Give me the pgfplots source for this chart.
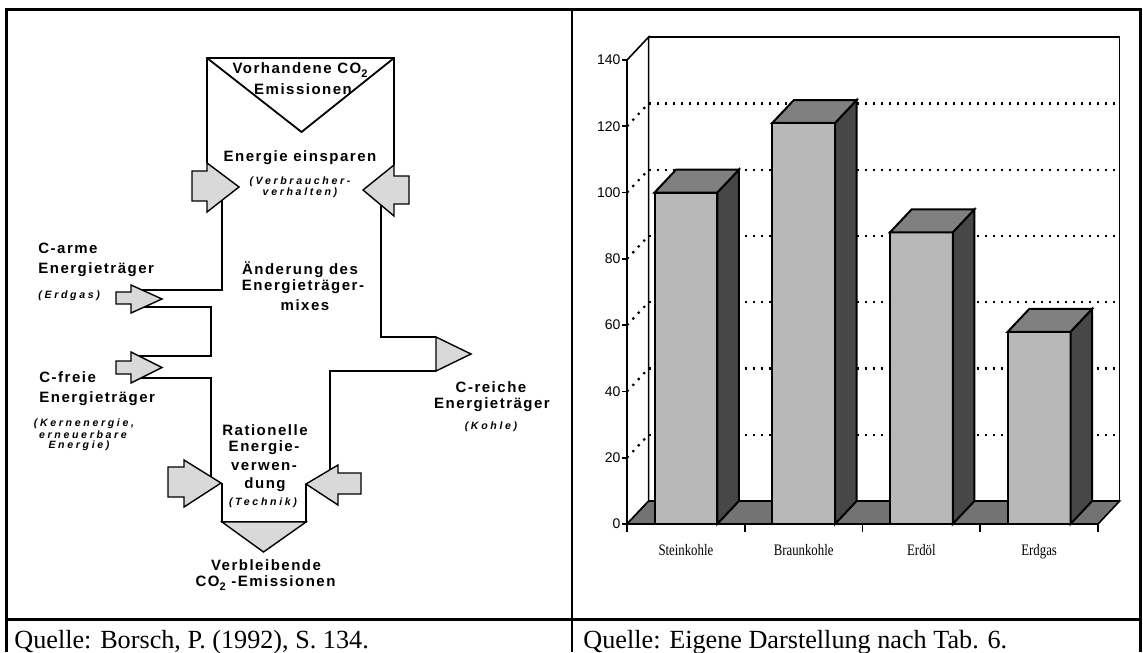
\documentclass[border=0pt]{standalone}
\usepackage{fontspec}
\setmainfont{Liberation Serif}
\usepackage{graphicx}
\usepackage{pgfplots}
\pgfplotsset{compat=1.18}
\newfontfamily\dg[LetterSpace=10]{Liberation Sans}
\newfontfamily\dgi[LetterSpace=25]{Liberation Sans}
\newfontfamily\tkf{Liberation Sans}
\newcommand\dgb{\dg\bfseries\fontsize{7.5}{9}\selectfont}
\newcommand\dgs{\dgi\bfseries\itshape\fontsize{5.3}{6}\selectfont}
\newcommand\sub[1]{\raisebox{-0.45ex}{\fontsize{5.5}{5.5}\selectfont #1}}
\begin{document}
\begin{tikzpicture}
\begin{scope}[x=0.5pt,y=-0.5pt]
\useasboundingbox (0,0) rectangle (1143,652);
% frame
\draw[line width=1.5pt] (6,652) -- (6,10) -- (1140,10) -- (1140,652);
\draw[line width=1.2pt] (572,10) -- (572,652);
\draw[line width=1.5pt] (6,619) -- (1140,619);
% diagram walls
\begin{scope}[line width=0.9pt]
\draw (207,163) -- (207,58) -- (394,58) -- (394,165);
\draw (207,58) -- (301.5,132) -- (394,58);
\draw (222,200) -- (222,290) -- (142,290);
\draw (144,307) -- (211,307) -- (211,356) -- (139,356);
\draw (141,378) -- (211,378) -- (211,477);
\draw (381,205) -- (381,337) -- (436,337);
\draw (436,371) -- (330,371) -- (330,469.5);
\draw (222,483) -- (222,522) -- (306,522) -- (306,484);
\end{scope}
\begin{scope}[fill=black!15, line width=0.7pt]
\filldraw (192,171) -- (207,171) -- (207,163) -- (239,187) -- (207,212) -- (207,201) -- (192,201) -- cycle;
\filldraw (409,176) -- (394,176) -- (394,165) -- (363,190) -- (394,216) -- (394,204) -- (409,204) -- cycle;
\filldraw (116,292) -- (131,292) -- (131,285) -- (162,299) -- (131,313) -- (131,304) -- (116,304) -- cycle;
\filldraw (116,361) -- (131,361) -- (131,352) -- (162,367.5) -- (131,383) -- (131,374) -- (116,374) -- cycle;
\filldraw (168,467) -- (184,467) -- (184,460) -- (221,483) -- (184,507) -- (184,497) -- (168,497) -- cycle;
\filldraw (361,473) -- (338,473) -- (338,465) -- (306,484) -- (338,505) -- (338,494) -- (361,494) -- cycle;
\filldraw (436,337) -- (471,354) -- (436,371) -- cycle;
\filldraw (222,522) -- (306,522) -- (263.5,552) -- cycle;
\end{scope}
% diagram texts
\node[font=\dgb] at (300,70) {Vorhandene CO\sub{2}};
\node[font=\dgb] at (303,89) {Emissionen};
\node[font=\dgb] at (300,158) {Energie einsparen};
\node[font=\dgs] at (300,182) {(Verbraucher-};
\node[font=\dgs] at (300,193) {verhalten)};
\node[font=\dgb,anchor=west,inner sep=0pt] at (38,248) {C-arme};
\node[font=\dgb,anchor=west,inner sep=0pt] at (38,270) {Energieträger};
\node[font=\dgs,anchor=west,inner sep=0pt] at (38,296) {(Erdgas)};
\node[font=\dgb] at (300,270) {Änderung des};
\node[font=\dgb] at (303,287) {Energieträger-};
\node[font=\dgb] at (305,305) {mixes};
\node[font=\dgb,anchor=west,inner sep=0pt] at (39,377) {C-freie};
\node[font=\dgb,anchor=west,inner sep=0pt] at (39,399) {Energieträger};
\node[font=\dgs] at (84,424) {(Kernenergie,};
\node[font=\dgs] at (83,435) {erneuerbare};
\node[font=\dgs] at (79,446) {Energie)};
\node[font=\dgb] at (265,430) {Rationelle};
\node[font=\dgb] at (264,448) {Energie-};
\node[font=\dgb] at (264,467) {verwen-};
\node[font=\dgb] at (265,485) {dung};
\node[font=\dgs] at (263,503) {(Technik)};
\node[font=\dgb] at (266,565) {Verbleibende};
\node[font=\dgb] at (265.5,583) {CO\sub{2} -Emissionen};
\node[font=\dgb] at (491,387) {C-reiche};
\node[font=\dgb] at (492,405) {Energieträger};
\node[font=\dgs] at (491,427) {(Kohle)};
% captions
\node[anchor=base west, font=\fontsize{13.1}{14}\selectfont, inner sep=0pt] at (14,648) {Quelle: Borsch, P. (1992), S. 134.};
\node[anchor=base west, font=\fontsize{13.1}{14}\selectfont, inner sep=0pt] at (583,648) {Quelle: Eigene Darstellung nach Tab. 6.};
\end{scope}
\begin{axis}[
  at={(313.5pt,-262pt)}, anchor=south west,
  scale only axis, width=235.5pt, height=232pt,
  xmin=0, xmax=4, ymin=0, ymax=140, clip=false,
  axis x line*=bottom, axis y line*=left,
  axis line style={line width=1pt, -},
  tick align=outside,
  ytick={0,20,...,140},
  major tick length=2.5pt, minor tick length=4pt,
  tick style={black, line width=0.9pt},
  xtick={0.5,1.5,2.5,3.5},
  xticklabels={\scalebox{0.8}[1]{Steinkohle},\scalebox{0.8}[1]{Braunkohle},\scalebox{0.8}[1]{Erdöl},\scalebox{0.8}[1]{Erdgas}},
  major x tick style={draw=none},
  minor xtick={0,1,2,3,4},
  yticklabel style={font=\tkf\fontsize{7}{7}\selectfont, inner sep=0.6pt},
  xticklabel style={font=\fontsize{8}{8}\selectfont, yshift=-4pt},
  /pgf/number format/assume math mode=true,
]
% back wall and side wall
\addplot[fill=white, draw=black, line width=0.8pt] coordinates {(0.183,6.9) (4.183,6.9) (4.183,146.9) (0.183,146.9)} --cycle;
\addplot[fill=white, draw=black, line width=0.8pt] coordinates {(0,0) (0.183,6.9) (0.183,146.9) (0,140)} --cycle;
% grid lines
\pgfplotsset{gl/.style={black, line width=1.1pt, dash pattern=on 1.1pt off 2.9pt}}
\addplot[gl] coordinates {(0.183,26.9) (4.183,26.9)};
\addplot[gl] coordinates {(0.183,46.9) (4.183,46.9)};
\addplot[gl] coordinates {(0.183,66.9) (4.183,66.9)};
\addplot[gl] coordinates {(0.183,86.9) (4.183,86.9)};
\addplot[gl] coordinates {(0.183,106.9) (4.183,106.9)};
\addplot[gl] coordinates {(0.183,126.9) (4.183,126.9)};
\addplot[gl] coordinates {(0,20) (0.183,26.9)};
\addplot[gl] coordinates {(0,40) (0.183,46.9)};
\addplot[gl] coordinates {(0,60) (0.183,66.9)};
\addplot[gl] coordinates {(0,80) (0.183,86.9)};
\addplot[gl] coordinates {(0,100) (0.183,106.9)};
\addplot[gl] coordinates {(0,120) (0.183,126.9)};
% floor
\addplot[fill=black!55, draw=black, line width=0.8pt] coordinates {(0,0) (4,0) (4.183,6.9) (0.183,6.9)} --cycle;
% bars: front faces
\addplot[ybar, bar width=0.533, fill=black!28, draw=black, line width=1pt] coordinates {(0.5,100) (1.5,121) (2.5,88) (3.5,58)};
% side faces
\addplot[fill=black!72, draw=black, line width=1pt] coordinates {(0.7665,0) (0.9495,6.9) (0.9495,106.9) (0.7665,100)} --cycle;
\addplot[fill=black!72, draw=black, line width=1pt] coordinates {(1.7665,0) (1.9495,6.9) (1.9495,127.9) (1.7665,121)} --cycle;
\addplot[fill=black!72, draw=black, line width=1pt] coordinates {(2.7665,0) (2.9495,6.9) (2.9495,94.9) (2.7665,88)} --cycle;
\addplot[fill=black!72, draw=black, line width=1pt] coordinates {(3.7665,0) (3.9495,6.9) (3.9495,64.9) (3.7665,58)} --cycle;
% top faces
\addplot[fill=black!50, draw=black, line width=1pt] coordinates {(0.2335,100) (0.7665,100) (0.9495,106.9) (0.4165,106.9)} --cycle;
\addplot[fill=black!50, draw=black, line width=1pt] coordinates {(1.2335,121) (1.7665,121) (1.9495,127.9) (1.4165,127.9)} --cycle;
\addplot[fill=black!50, draw=black, line width=1pt] coordinates {(2.2335,88) (2.7665,88) (2.9495,94.9) (2.4165,94.9)} --cycle;
\addplot[fill=black!50, draw=black, line width=1pt] coordinates {(3.2335,58) (3.7665,58) (3.9495,64.9) (3.4165,64.9)} --cycle;
\end{axis}
\end{tikzpicture}
\end{document}
